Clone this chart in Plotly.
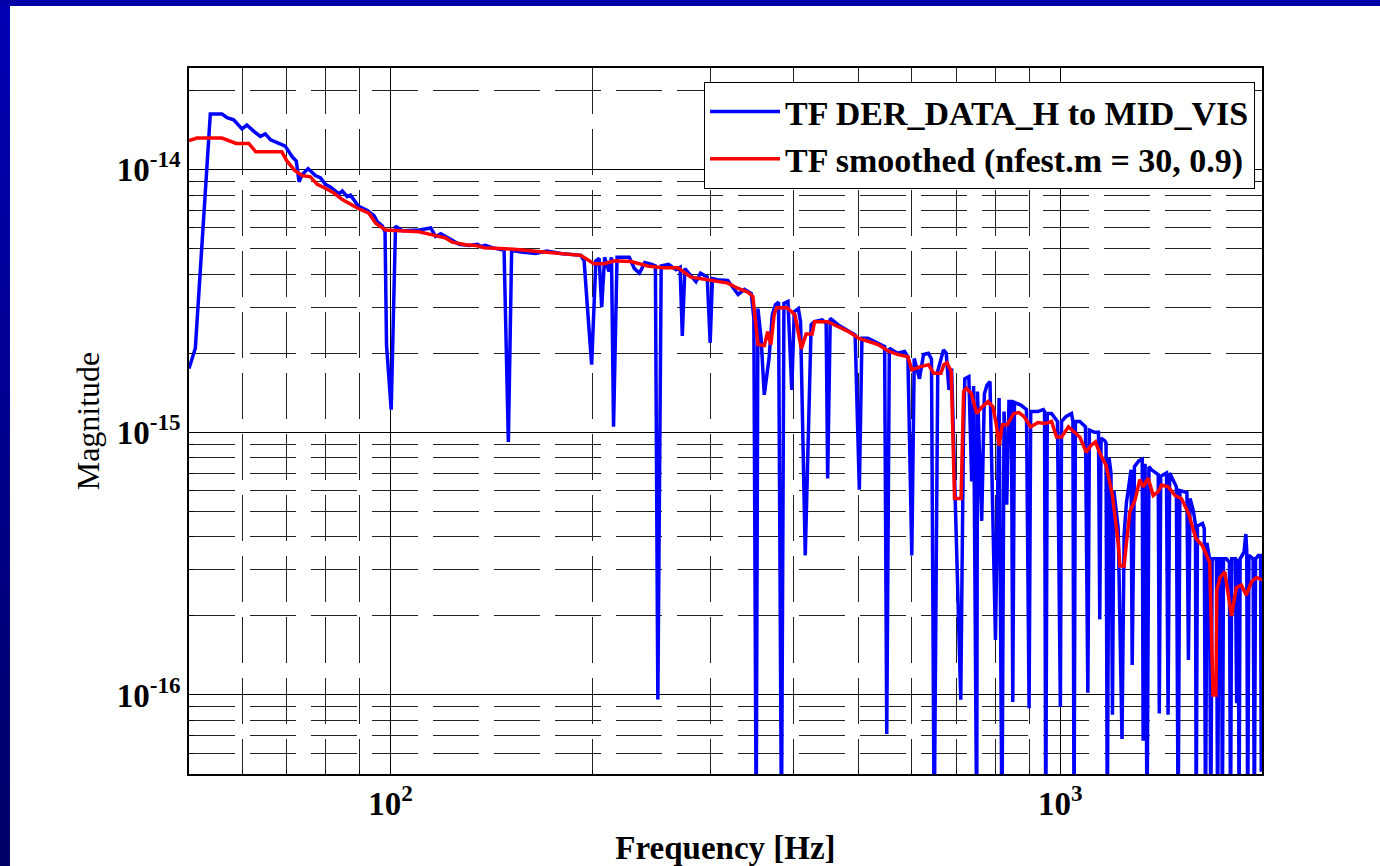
import plotly.graph_objects as go

# ---------------- data ----------------
freq_tf = [50.0, 51.1, 53.8, 56.0, 57.0, 58.3, 60.0, 61.0, 62.5, 63.9, 65.0, 66.2, 68.1, 69.6,
           71.3, 72.3, 73.0, 73.8, 75.3, 77.2, 78.6, 79.9, 81.3, 83.7, 84.7, 86.1, 87.1, 89.6,
           92.3, 94.4, 95.5, 97.2, 98.1, 98.6, 100.2, 101.0, 101.7, 104.1, 110.3, 114.8, 116.7,
           118.8, 123.6, 126.6, 131.0, 134.8, 136.3, 138.5, 141.8, 146.5, 147.7, 149.9, 151.6,
           156.5, 164.7, 171.0, 179.5, 192.3, 194.5, 196.7, 199.6, 202.5, 204.8, 206.6, 208.7,
           211.8, 213.7, 215.2, 217.8, 227.2, 231.2, 235.3, 239.6, 245.4, 248.5, 250.6, 253.5,
           260.0, 266.8, 270.5, 272.6, 275.0, 280.8, 285.7, 290.2, 297.0, 300.0, 302.3, 310.0,
           318.7, 330.3, 337.6, 345.5, 348.6, 351.4, 353.5, 357.4, 361.3, 367.3, 371.4, 375.4,
           379.5, 383.3, 386.6, 392.0, 397.1, 400.6, 406.2, 409.3, 416.0, 424.5, 429.1, 441.0,
           447.0, 449.3, 453.3, 465.3, 482.6, 493.8, 501.0, 505.5, 516.0, 534.5, 546.5, 550.5,
           555.4, 571.0, 585.2, 592.0, 600.0, 605.0, 616.0, 624.7, 635.3, 642.0, 648.0, 656.0,
           669.0, 675.4, 681.8, 688.0, 698.5, 701.6, 710.0, 716.5, 720.0, 730.0, 737.2, 742.0,
           750.0, 752.0, 763.0, 770.0, 776.7, 785.0, 800.0, 810.0, 818.0, 824.0, 831.5, 838.0,
           845.0, 849.0, 854.0, 873.0, 890.0, 898.0, 903.0, 925.0, 943.0, 947.0, 951.0, 956.0,
           970.0, 990.0, 1000.0, 1004.0, 1020.0, 1039.0, 1044.0, 1048.0, 1053.0, 1069.0, 1090.0,
           1099.0, 1105.0, 1125.0, 1140.0, 1145.0, 1150.0, 1165.0, 1170.0, 1175.0, 1182.0,
           1190.0, 1196.0, 1202.0, 1220.0, 1236.0, 1245.0, 1255.0, 1268.0, 1275.0, 1280.0,
           1290.0, 1310.0, 1325.0, 1329.0, 1338.0, 1347.0, 1356.0, 1368.0, 1400.0, 1405.0,
           1412.0, 1440.0, 1448.0, 1456.0, 1490.0, 1499.0, 1508.0, 1545.0, 1553.0, 1562.0,
           1580.0, 1591.0, 1595.0, 1602.0, 1630.0, 1640.0, 1647.0, 1655.0, 1670.0, 1677.0,
           1685.0, 1710.0, 1717.0, 1725.0, 1740.0, 1745.0, 1752.0, 1770.0, 1788.0, 1795.0,
           1802.0, 1825.0, 1833.0, 1840.0, 1844.0, 1848.0, 1855.0, 1880.0, 1892.0, 1898.0,
           1904.0, 1912.0, 1940.0, 1948.0, 1956.0, 1975.0, 1990.0, 1995.0, 2000.0]

mag_tf = [1.75e-15, 2.09e-15, 1.63e-14, 1.63e-14, 1.58e-14, 1.55e-14, 1.43e-14, 1.48e-14, 1.40e-14,
          1.34e-14, 1.37e-14, 1.30e-14, 1.26e-14, 1.23e-14, 1.12e-14, 1.08e-14, 9.0e-15, 9.6e-15,
          1.01e-14, 9.5e-15, 9.3e-15, 8.8e-15, 8.6e-15, 8.1e-15, 8.3e-15, 7.9e-15, 8.0e-15, 7.25e-15,
          7.0e-15, 6.7e-15, 6.35e-15, 6.1e-15, 5.8e-15, 2.15e-15, 1.22e-15, 2.5e-15, 6.1e-15, 5.86e-15,
          5.9e-15, 6.0e-15, 5.57e-15, 5.7e-15, 5.4e-15, 5.2e-15, 5.15e-15, 5.2e-15, 5.1e-15, 5.15e-15,
          5.05e-15, 4.98e-15, 4.94e-15, 9.2e-16, 4.94e-15, 4.86e-15, 4.8e-15, 4.9e-15, 4.8e-15,
          4.72e-15, 4.5e-15, 3.0e-15, 1.81e-15, 4.5e-15, 4.6e-15, 3.0e-15, 4.64e-15, 4.1e-15,
          4.64e-15, 1.05e-15, 4.64e-15, 4.64e-15, 4.2e-15, 4.04e-15, 4.43e-15, 4.36e-15, 4.3e-15,
          9.6e-17, 4.3e-15, 4.36e-15, 4.16e-15, 4.25e-15, 2.33e-15, 4.2e-15, 3.97e-15, 3.75e-15,
          4.04e-15, 3.9e-15, 2.19e-15, 3.85e-15, 3.8e-15, 3.79e-15, 3.35e-15, 3.5e-15, 3.38e-15,
          2.72e-15, 3e-17, 2.96e-15, 2.28e-15, 1.39e-15, 1.91e-15, 2.8e-15, 3.06e-15, 3.13e-15,
          3e-17, 3.1e-15, 3.15e-15, 1.45e-15, 2.88e-15, 2.96e-15, 2.64e-15, 3.4e-16, 2.57e-15,
          2.64e-15, 2.68e-15, 2.6e-15, 6.68e-16, 2.72e-15, 2.57e-15, 2.42e-15, 2.35e-15, 6.05e-16,
          2.28e-15, 2.28e-15, 2.18e-15, 2.12e-15, 7.1e-17, 2.09e-15, 2.0e-15, 2.03e-15, 1.94e-15,
          3.4e-16, 1.91e-15, 1.6e-15, 1.98e-15, 2.0e-15, 1.9e-15, 3e-17, 1.71e-15, 2.06e-15,
          2.0e-15, 1.45e-15, 1.75e-15, 4.18e-16, 3.3e-16, 9.6e-17, 9.5e-16, 1.6e-15, 1.63e-15,
          6.5e-16, 1.5e-15, 3e-17, 1.43e-15, 4.6e-16, 1.4e-15, 1.51e-15, 1.56e-15, 1.62e-16,
          1.35e-15, 3e-17, 1.2e-15, 5.3e-16, 1.31e-15, 1.31e-15, 9.4e-17, 1.3e-15, 1.27e-15,
          1.22e-15, 8.9e-17, 1.2e-15, 1.2e-15, 1.22e-15, 1.2e-15, 3e-17, 1.18e-15, 1.18e-15,
          1.1e-15, 9.0e-17, 1.1e-15, 1.15e-15, 1.18e-15, 1.1e-15, 3e-17, 1.1e-15, 1.1e-15,
          1.05e-15, 1.02e-16, 1.02e-15, 1.0e-15, 1.0e-15, 1.94e-16, 9.5e-16, 9.3e-16, 9.1e-16,
          3e-17, 8.0e-16, 7.0e-16, 8.4e-17, 6.0e-16, 4.3e-16, 6.8e-17, 4.1e-16, 5.4e-16, 6.5e-16,
          7.2e-16, 1.3e-16, 7.4e-16, 7.8e-16, 7.9e-16, 6.7e-17, 7.6e-16, 3e-17, 7.4e-16, 7.2e-16,
          6.9e-16, 8.5e-17, 6.8e-16, 7.0e-16, 8.4e-17, 7.0e-16, 6.2e-16, 3e-17, 6.0e-16, 5.9e-16,
          1.36e-16, 5.6e-16, 5.0e-16, 4.45e-16, 3e-17, 4.4e-16, 4.5e-16, 4.3e-16, 3e-17, 3.8e-16,
          3.3e-16, 3e-17, 3.3e-16, 3.3e-16, 3e-17, 3.3e-16, 3.3e-16, 3e-17, 3.3e-16, 3.3e-16,
          3.2e-16, 3e-17, 3.3e-16, 3.3e-16, 9.3e-17, 3.3e-16, 3.2e-16, 3e-17, 3.3e-16, 3.5e-16,
          4.1e-16, 3.5e-16, 3e-17, 3.4e-16, 3.3e-16, 3e-17, 3.3e-16, 3.4e-16, 3.4e-16, 5.1e-17,
          3.4e-16]

freq_smooth = [50.0, 51.4, 56.0, 58.8, 61.4, 62.9, 68.8, 70.0, 71.9, 73.8, 75.9, 77.7, 79.9, 82.3,
               84.7, 89.6, 92.8, 95.0, 98.3, 102.9, 110.3, 115.4, 120.8, 123.6, 129.4, 133.9,
               137.9, 152.8, 171.5, 192.3, 201.1, 208.4, 215.9, 228.5, 242.0, 254.8, 268.5,
               280.8, 297.5, 318.7, 330.3, 341.5, 347.4, 349.5, 353.6, 361.4, 365.6, 369.6,
               373.8, 376.8, 390.8, 401.6, 410.5, 417.2, 426.0, 429.5, 449.3, 465.3, 482.6,
               500.5, 516.0, 534.5, 553.0, 571.0, 592.0, 600.0, 618.0, 635.3, 646.8, 663.0,
               670.0, 677.0, 687.0, 695.0, 710.8, 717.0, 724.0, 736.0, 750.0, 763.5, 780.0,
               793.0, 802.0, 810.0, 819.0, 833.0, 852.0, 867.0, 882.0, 903.0, 926.0, 948.0,
               970.0, 987.0, 1004.0, 1028.0, 1069.0, 1093.0, 1110.0, 1128.0, 1146.0, 1170.0,
               1196.0, 1207.0, 1220.0, 1227.0, 1245.0, 1255.0, 1270.0, 1292.0, 1314.0, 1329.0,
               1352.0, 1376.0, 1400.0, 1416.0, 1449.0, 1483.0, 1516.0, 1554.0, 1593.0, 1630.0,
               1671.0, 1690.0, 1707.0, 1712.0, 1731.0, 1760.0, 1801.0, 1831.0, 1863.0, 1895.0,
               1930.0, 1963.0, 2000.0]

mag_smooth = [1.29e-14, 1.32e-14, 1.32e-14, 1.26e-14, 1.26e-14, 1.17e-14, 1.17e-14, 1.08e-14,
              9.94e-15, 9.5e-15, 9.4e-15, 8.8e-15, 8.5e-15, 8.15e-15, 7.7e-15, 7.1e-15, 6.83e-15,
              6.26e-15, 5.9e-15, 5.86e-15, 5.8e-15, 5.65e-15, 5.5e-15, 5.3e-15, 5.18e-15,
              5.15e-15, 5.05e-15, 4.98e-15, 4.86e-15, 4.72e-15, 4.39e-15, 4.39e-15, 4.5e-15,
              4.47e-15, 4.3e-15, 4.23e-15, 4.23e-15, 3.9e-15, 3.81e-15, 3.7e-15, 3.53e-15,
              3.42e-15, 3.29e-15, 2.8e-15, 2.16e-15, 2.14e-15, 2.42e-15, 2.16e-15, 2.8e-15,
              2.98e-15, 2.98e-15, 2.8e-15, 2.08e-15, 2.37e-15, 2.37e-15, 2.64e-15, 2.64e-15,
              2.53e-15, 2.42e-15, 2.28e-15, 2.23e-15, 2.16e-15, 2.04e-15, 1.98e-15, 1.94e-15,
              1.73e-15, 1.78e-15, 1.81e-15, 1.68e-15, 1.68e-15, 1.81e-15, 1.84e-15, 1.71e-15,
              5.6e-16, 5.6e-16, 1.43e-15, 1.47e-15, 1.41e-15, 1.18e-15, 1.25e-15, 1.31e-15,
              1.25e-15, 1.08e-15, 8.9e-16, 1.07e-15, 1.07e-15, 1.18e-15, 1.19e-15, 1.15e-15,
              1.05e-15, 1.09e-15, 1.08e-15, 1.1e-15, 9.6e-16, 9.6e-16, 1.05e-15, 9.6e-16,
              8.4e-16, 8.9e-16, 9.2e-16, 8.3e-16, 7.5e-16, 5.75e-16, 4.8e-16, 3.8e-16, 3.1e-16,
              3.1e-16, 3.8e-16, 5.0e-16, 5.5e-16, 6.6e-16, 6.2e-16, 6.7e-16, 5.75e-16, 5.95e-16,
              6.3e-16, 6.2e-16, 5.75e-16, 5.6e-16, 4.9e-16, 3.95e-16, 3.7e-16, 3.2e-16, 1.0e-16,
              1.0e-16, 2.5e-16, 2.8e-16, 2.94e-16, 2.0e-16, 2.56e-16, 2.62e-16, 2.4e-16, 2.7e-16,
              2.8e-16, 2.74e-16]

series_names = ["TF DER_DATA_H to MID_VIS", "TF smoothed (nfest.m = 30, 0.9)"]

x_major_vals = [100, 1000]
x_major_text = ["10<sup>2</sup>", "10<sup>3</sup>"]
x_minor_vals = [60, 70, 80, 90, 200, 300, 400, 500, 600, 700, 800, 900]
y_major_vals = [1e-16, 1e-15, 1e-14]
y_major_text = ["10<sup>-16</sup>", "10<sup>-15</sup>", "10<sup>-14</sup>"]
y_minor_vals = [6e-17, 7e-17, 8e-17, 9e-17,
                2e-16, 3e-16, 4e-16, 5e-16, 6e-16, 7e-16, 8e-16, 9e-16,
                2e-15, 3e-15, 4e-15, 5e-15, 6e-15, 7e-15, 8e-15, 9e-15, 2e-14]

x_limits_log = [1.69897, 3.30103]      # 50 Hz .. 2000 Hz
y_limits_log = [-16.301, -13.6126]     # 5e-17 .. ~2.44e-14

# ---------------- figure ----------------
FONT = "Liberation Serif"
W, H = 1380, 866
ML, MR, MT, MB = 189, 118, 68, 92
PW, PH = W - ML - MR, H - MT - MB

fig = go.Figure()
fig.add_trace(go.Scatter(x=freq_tf, y=mag_tf, mode="lines", name=series_names[0],
                         line=dict(color="#0000FF", width=3.5)))
fig.add_trace(go.Scatter(x=freq_smooth, y=mag_smooth, mode="lines", name=series_names[1],
                         line=dict(color="#FF0000", width=3.5)))

def px_to_paper_x(px):
    return (px - ML) / PW

def px_to_paper_y(py):
    return (H - MB - py) / PH

# slide decoration: blue frame (top bar and left gradient strip)
shapes = []
shapes.append(dict(type="rect", xref="paper", yref="paper",
                   x0=px_to_paper_x(0), x1=px_to_paper_x(W),
                   y0=px_to_paper_y(6), y1=px_to_paper_y(0),
                   fillcolor="#0000AA", line=dict(width=0), layer="above"))
n_steps = 40
for i in range(n_steps):
    t = i / (n_steps - 1)
    b = int(round(178 + (104 - 178) * t))
    y_top = 6 + (H - 6) * i / n_steps
    y_bot = 6 + (H - 6) * (i + 1) / n_steps
    shapes.append(dict(type="rect", xref="paper", yref="paper",
                       x0=px_to_paper_x(0), x1=px_to_paper_x(10),
                       y0=px_to_paper_y(y_bot + 0.5), y1=px_to_paper_y(y_top),
                       fillcolor=f"rgb(0,0,{b})", line=dict(width=0), layer="above"))

grid_dash = "46px,15px"
tick_font = dict(family=FONT, size=33, color="black", weight="bold")

fig.update_layout(
    width=W, height=H,
    margin=dict(l=ML, r=MR, t=MT, b=MB, pad=0, autoexpand=False),
    paper_bgcolor="white", plot_bgcolor="white",
    font=dict(family=FONT, color="black"),
    shapes=shapes,
    showlegend=True,
    legend=dict(x=px_to_paper_x(1255), y=px_to_paper_y(82), xanchor="right", yanchor="top",
                bgcolor="white", bordercolor="black", borderwidth=1,
                font=dict(family=FONT, size=34, color="black", weight="bold"),
                itemwidth=70, tracegroupgap=0),
    xaxis=dict(type="log", range=x_limits_log, showline=True, mirror=True,
               linecolor="black", linewidth=1.5, automargin=False,
               tickmode="array", tickvals=x_major_vals, ticktext=x_major_text,
               ticks="inside", ticklen=8, tickcolor="black", tickfont=tick_font,
               showgrid=True, gridcolor="black", gridwidth=1,
               minor=dict(tickmode="array", tickvals=x_minor_vals, showgrid=True,
                          gridcolor="#222222", gridwidth=1, griddash=grid_dash,
                          ticks="inside", ticklen=4, tickcolor="black"),
               title=dict(text="<b>Frequency [Hz]</b>",
                          font=dict(family=FONT, size=33, color="black"), standoff=16),
               zeroline=False),
    yaxis=dict(type="log", range=y_limits_log, showline=True, mirror=True,
               linecolor="black", linewidth=1.5, automargin=False,
               tickmode="array", tickvals=y_major_vals, ticktext=y_major_text,
               ticks="inside", ticklen=8, tickcolor="black", tickfont=tick_font,
               showgrid=True, gridcolor="black", gridwidth=1,
               minor=dict(tickmode="array", tickvals=y_minor_vals, showgrid=True,
                          gridcolor="#222222", gridwidth=1, griddash=grid_dash,
                          ticks="inside", ticklen=4, tickcolor="black"),
               title=dict(text="Magnitude",
                          font=dict(family=FONT, size=32, color="black"), standoff=8),
               zeroline=False),
)

fig.write_html("out.html")
